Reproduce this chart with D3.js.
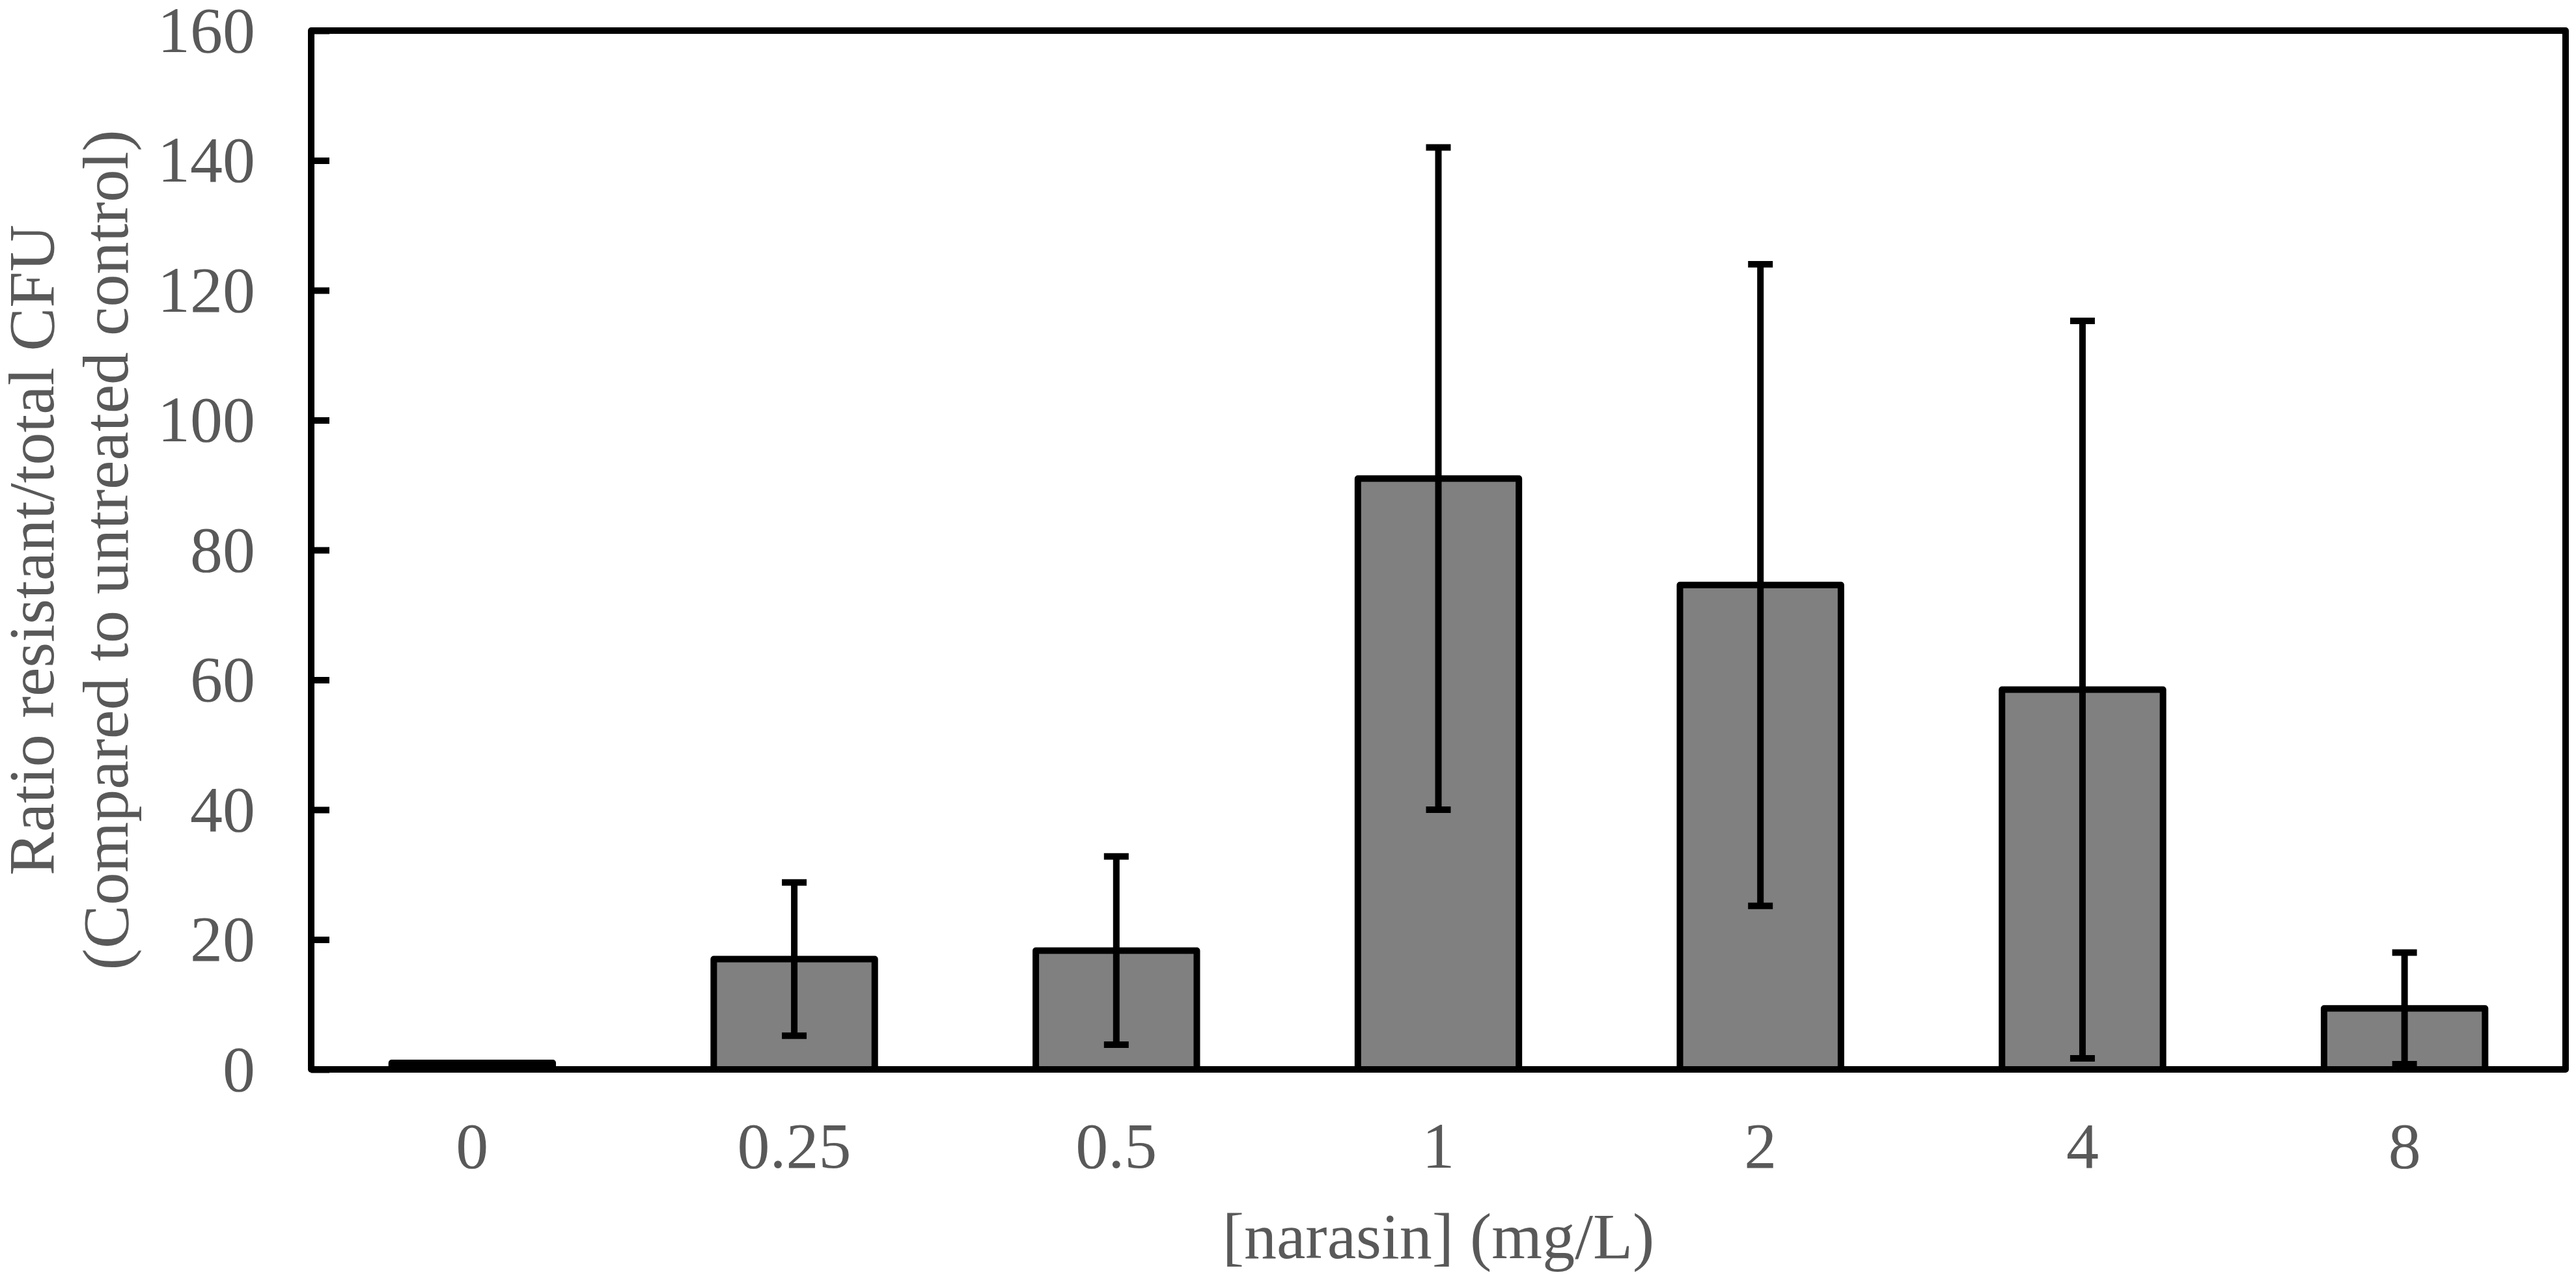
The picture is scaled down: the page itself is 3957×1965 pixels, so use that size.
<!DOCTYPE html>
<html>
<head>
<meta charset="utf-8">
<script src="https://cdn.jsdelivr.net/npm/d3@7/dist/d3.min.js"></script>
<style>
  body { margin: 0; background: #fff; }
  text { font-family: "Liberation Serif", "Times New Roman", serif; fill: #595959; }
</style>
</head>
<body>
<svg id="chart"></svg>
<script>
  // Data
  const doses = ["0", "0.25", "0.5", "1", "2", "4", "8"];
  const ratios = [1, 17, 18.3, 91, 74.6, 58.5, 9.4];
  const errors = [0, 11.8, 14.5, 51, 49.4, 56.8, 8.6];
  const yTicks = [0, 20, 40, 60, 80, 100, 120, 140, 160];

  const width = 3957, height = 1965;
  const margin = { left: 478, right: 16, top: 47, bottom: 322 };

  const svg = d3.select("#chart")
    .attr("width", width)
    .attr("height", height);

  const x = d3.scaleBand()
    .domain(doses)
    .range([margin.left, width - margin.right])
    .paddingInner(0.5)
    .paddingOuter(0.25);

  const y = d3.scaleLinear()
    .domain([0, 160])
    .range([height - margin.bottom, margin.top]);

  // Y axis: ticks point inward
  const yAxis = svg.append("g")
    .attr("transform", `translate(${margin.left},0)`)
    .call(d3.axisLeft(y).tickValues(yTicks).tickSize(-28).tickPadding(86));
  yAxis.select(".domain").remove();
  yAxis.selectAll("line").attr("stroke", "#000").attr("stroke-width", 10);
  yAxis.selectAll("text").attr("font-size", 100).attr("fill", "#595959");

  // X axis labels
  const xAxis = svg.append("g")
    .attr("transform", `translate(0,${y(0)})`)
    .call(d3.axisBottom(x).tickSize(0).tickPadding(80));
  xAxis.select(".domain").remove();
  xAxis.selectAll("text").attr("font-size", 100).attr("fill", "#595959");

  // Bars
  svg.append("g")
    .selectAll("rect")
    .data(doses)
    .join("rect")
    .attr("x", d => x(d))
    .attr("width", x.bandwidth())
    .attr("y", (d, i) => y(ratios[i]))
    .attr("height", (d, i) => y(0) - y(ratios[i]))
    .attr("fill", "#808080")
    .attr("stroke", "#000")
    .attr("stroke-width", 10)
    .attr("stroke-linejoin", "round");

  // Error bars
  const eb = svg.append("g")
    .selectAll("g")
    .data(doses.filter((d, i) => errors[i] > 0))
    .join("g")
    .attr("stroke", "#000")
    .attr("stroke-width", 10);

  eb.append("line")
    .attr("x1", d => x(d) + x.bandwidth() / 2)
    .attr("x2", d => x(d) + x.bandwidth() / 2)
    .attr("y1", d => { const i = doses.indexOf(d); return y(ratios[i] + errors[i]); })
    .attr("y2", d => { const i = doses.indexOf(d); return y(ratios[i] - errors[i]); });

  ["+", "-"].forEach(sign => {
    eb.append("line")
      .attr("x1", d => x(d) + x.bandwidth() / 2 - 19)
      .attr("x2", d => x(d) + x.bandwidth() / 2 + 19)
      .attr("y1", d => { const i = doses.indexOf(d); return y(sign === "+" ? ratios[i] + errors[i] : ratios[i] - errors[i]); })
      .attr("y2", d => { const i = doses.indexOf(d); return y(sign === "+" ? ratios[i] + errors[i] : ratios[i] - errors[i]); });
  });

  // Plot frame
  svg.append("rect")
    .attr("x", margin.left)
    .attr("y", margin.top)
    .attr("width", width - margin.right - margin.left)
    .attr("height", y(0) - margin.top)
    .attr("fill", "none")
    .attr("stroke", "#000")
    .attr("stroke-width", 10)
    .attr("stroke-linejoin", "round");

  // Axis titles
  const yMid = (margin.top + y(0)) / 2;
  svg.append("text")
    .attr("transform", `translate(82,${yMid}) rotate(-90)`)
    .attr("text-anchor", "middle")
    .attr("font-size", 100)
    .text("Ratio resistant/total CFU");
  svg.append("text")
    .attr("transform", `translate(196,${yMid}) rotate(-90)`)
    .attr("text-anchor", "middle")
    .attr("font-size", 100)
    .text("(Compared to untreated control)");

  svg.append("text")
    .attr("x", (margin.left + width - margin.right) / 2)
    .attr("y", 1933)
    .attr("text-anchor", "middle")
    .attr("font-size", 100)
    .text("[narasin] (mg/L)");
</script>
</body>
</html>
